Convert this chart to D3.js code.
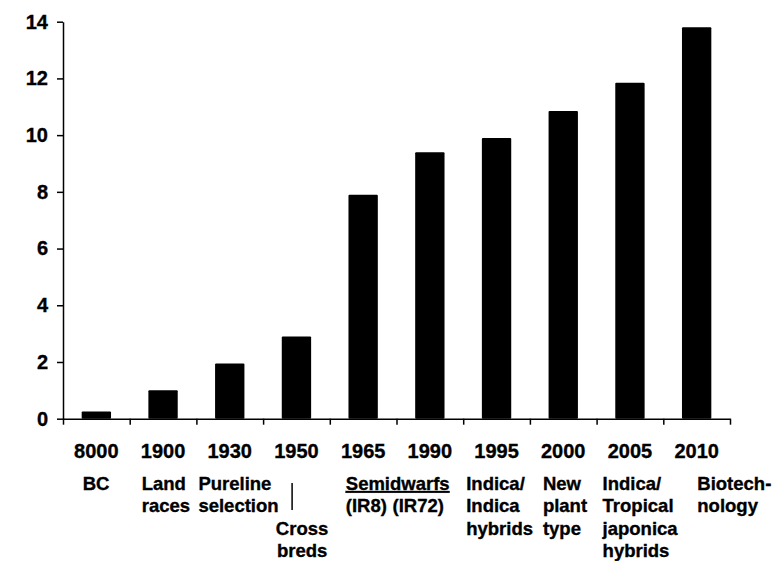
<!DOCTYPE html>
<html>
<head>
<meta charset="utf-8">
<script src="https://cdn.jsdelivr.net/npm/d3@7"></script>
<style>
    body { margin: 0; background: #fff; }
    svg { display: block; font-family: "Liberation Sans", Arial, sans-serif; font-weight: bold; }
    text { stroke: #000; stroke-width: 0.35px; }
</style>
</head>
<body>
<svg id="chart" width="773" height="561"></svg>
<script>
// Data
const years = ['8000', '1900', '1930', '1950', '1965', '1990', '1995', '2000', '2005', '2010'];
const yields = [0.25, 1.0, 1.95, 2.9, 7.9, 9.4, 9.9, 10.85, 11.85, 13.8];
const eras = [
    ['BC'],
    ['Land', 'races'],
    ['Pureline', 'selection'],
    ['Cross', 'breds'],
    ['Semidwarfs', '(IR8)'],
    ['', '(IR72)'],
    ['Indica/', 'Indica', 'hybrids'],
    ['New', 'plant', 'type'],
    ['Indica/', 'Tropical', 'japonica', 'hybrids'],
    ['Biotech-', 'nology']
];
const yTicks = [0, 2, 4, 6, 8, 10, 12, 14];

// Layout
const axisLeftX = 63, axisRightX = 730;
const yTop = 21.7, yBottom = 418.7;
const yearBaseline = 458;
const rowY = i => 490 + i * 22.4;

// how each era label sits relative to its band
const eraLayout = [
    { anchor: 'middle', dx: 33 },
    { anchor: 'start', dx: 12 },
    { anchor: 'start', dx: 2 },
    { anchor: 'middle', dx: 39, row0: 2, bar: true },
    { anchor: 'start', dx: 16, underline: true },
    { anchor: 'start', dx: -4 },
    { anchor: 'start', dx: 3 },
    { anchor: 'start', dx: 13 },
    { anchor: 'start', dx: 6 },
    { anchor: 'start', dx: 34 }
];

const svg = d3.select('#chart');

const x = d3.scaleBand()
    .domain(years)
    .range([axisLeftX, axisRightX])
    .padding(0);

const xEdges = d3.scaleLinear()
    .domain([0, years.length])
    .range([axisLeftX, axisRightX]);

const y = d3.scaleLinear()
    .domain([0, 14])
    .range([yBottom, yTop]);

const barW = x.bandwidth() * 0.44;

// Bars
svg.append('g')
    .selectAll('rect')
    .data(years)
    .enter().append('rect')
    .attr('x', (d, i) => x(d) + x.bandwidth() / 2 - barW / 2)
    .attr('y', (d, i) => y(yields[i]))
    .attr('width', barW)
    .attr('height', (d, i) => y(0) - y(yields[i]))
    .attr('rx', 1)
    .attr('fill', '#000');

// Y axis
const yAxis = svg.append('g')
    .attr('transform', `translate(${axisLeftX},0)`)
    .call(d3.axisLeft(y).tickValues(yTicks).tickSize(6).tickSizeOuter(0).tickPadding(9));
yAxis.selectAll('path, line').attr('stroke', '#000').attr('stroke-width', 1.5);
yAxis.selectAll('text')
    .attr('fill', '#000')
    .style('font-size', '20px')
    .style('font-weight', 'bold')
    .style('font-family', '"Liberation Sans", Arial, sans-serif');

// X axis (ticks at band edges)
const xAxis = svg.append('g')
    .attr('transform', `translate(0,${yBottom})`)
    .call(d3.axisBottom(xEdges).tickValues(d3.range(years.length + 1)).tickSize(6).tickSizeOuter(0).tickFormat(''));
xAxis.selectAll('path, line').attr('stroke', '#000').attr('stroke-width', 1.5);

// Year labels
svg.append('g')
    .selectAll('text')
    .data(years)
    .enter().append('text')
    .attr('x', d => x(d) + x.bandwidth() / 2)
    .attr('y', yearBaseline)
    .attr('text-anchor', 'middle')
    .style('font-size', '20px')
    .text(d => d);

// Era labels
const eraGroup = svg.append('g');
eras.forEach((lines, i) => {
    const lay = eraLayout[i];
    const ex = x(years[i]) + lay.dx;
    lines.forEach((line, j) => {
        if (!line) return;
        const t = eraGroup.append('text')
            .attr('x', ex)
            .attr('y', rowY((lay.row0 || 0) + j))
            .attr('text-anchor', lay.anchor)
            .style('font-size', '18.5px')
            .text(line);
        if (lay.underline && j === 0) t.style('text-decoration', 'underline');
    });
    if (lay.bar) {
        eraGroup.append('line')
            .attr('x1', ex - 10).attr('x2', ex - 10)
            .attr('y1', 483).attr('y2', 510)
            .attr('stroke', '#000')
            .attr('stroke-width', 1.5);
    }
});
</script>
</body>
</html>
